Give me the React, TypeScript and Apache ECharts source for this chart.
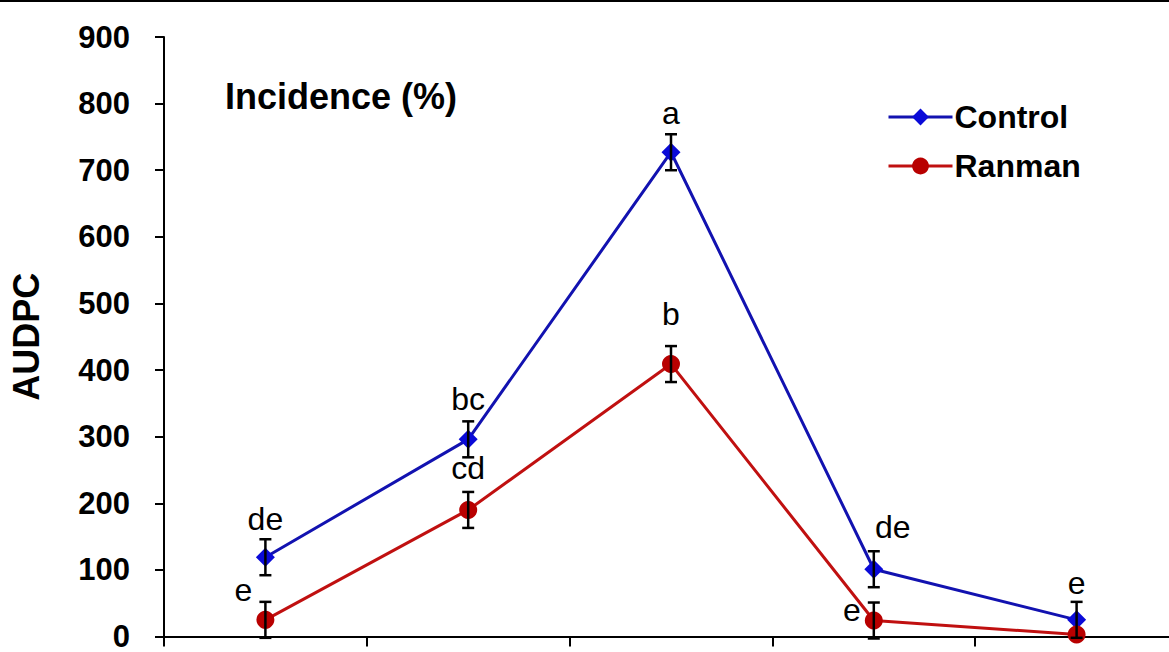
import React, { useEffect, useRef } from "react";
import * as echarts from "echarts";

const categories = ["T1", "T2", "T3", "T4", "T5"];
const controlValues = [119, 296, 727, 101, 25];
const controlErrors = [27, 27, 27, 27, 27];
const controlLetters = ["de", "bc", "a", "de", "e"];
const ranmanValues = [25, 190, 409, 24, 3];
const ranmanErrors = [27, 27, 27, 27, 0];
const ranmanLetters = ["e", "cd", "b", "e", ""];
const yTicks = [0, 100, 200, 300, 400, 500, 600, 700, 800, 900];

// label placement relative to error-bar top (pixels)
const controlLabelShift = [[0, -4], [0, -6], [0, -5], [19, -8], [0, -3]];
const ranmanLabelShift = [[-22, 4], [0, -8], [0, -16], [-22, 23], [0, 0]];

const FONT = "Liberation Sans, Arial, Helvetica, sans-serif";

function errorSeries(name: string, values: number[], errors: number[], letters: string[], shifts: number[][]) {
  const data = values.map((v, i) => [i, v - errors[i], v + errors[i], i]);
  return {
    type: "custom",
    name: name + "_err",
    z: 5,
    silent: true,
    data,
    renderItem: (params: any, api: any) => {
      const idx = api.value(3);
      const lo = api.coord([api.value(0), api.value(1)]);
      const hi = api.coord([api.value(0), api.value(2)]);
      const cap = 6;
      const style = { stroke: "#000", lineWidth: 2.5 };
      const children: any[] = [];
      if (errors[idx] > 0) {
        children.push(
          { type: "line", shape: { x1: hi[0], y1: hi[1], x2: lo[0], y2: lo[1] }, style },
          { type: "line", shape: { x1: hi[0] - cap, y1: hi[1], x2: hi[0] + cap, y2: hi[1] }, style },
          { type: "line", shape: { x1: lo[0] - cap, y1: lo[1], x2: lo[0] + cap, y2: lo[1] }, style }
        );
      }
      const letter = letters[idx];
      if (letter) {
        const s = shifts[idx];
        children.push({
          type: "text",
          x: hi[0] + s[0],
          y: hi[1] + s[1],
          style: {
            text: letter,
            fontSize: 32,
            fontFamily: FONT,
            fill: "#000",
            align: "center",
            verticalAlign: "bottom",
          },
        });
      }
      return { type: "group", children };
    },
  };
}

export default function App() {
  const ref = useRef<HTMLDivElement>(null);
  useEffect(() => {
    document.body.style.margin = "0";
    document.body.style.overflow = "hidden";
    const chart = echarts.init(ref.current!, undefined, { renderer: "svg" });
    chart.setOption({
      animation: false,
      backgroundColor: "#fff",
      grid: { left: 163, top: 37, width: 1015, bottom: 12, containLabel: false },
      legend: {
        left: 882,
        top: 96,
        orient: "vertical",
        itemWidth: 64,
        itemHeight: 21,
        itemGap: 17,
        lineStyle: { width: 3 },
        textStyle: { fontSize: 32, fontWeight: "bold", fontFamily: FONT, color: "#000", padding: [0, 0, 0, -3] },
        data: ["Control", "Ranman"],
      },
      xAxis: {
        type: "category",
        data: categories,
        boundaryGap: true,
        axisLine: { lineStyle: { color: "#000", width: 2 } },
        axisTick: { show: true, length: 10, lineStyle: { color: "#000", width: 2 } },
        axisLabel: { show: false },
        splitLine: { show: false },
      },
      yAxis: {
        type: "value",
        min: yTicks[0],
        max: yTicks[yTicks.length - 1],
        interval: 100,
        name: "AUDPC",
        nameLocation: "middle",
        nameGap: 120,
        nameRotate: 90,
        nameTextStyle: { fontSize: 36, fontWeight: "bold", fontFamily: FONT, color: "#000" },
        axisLine: { show: true, lineStyle: { color: "#000", width: 2 } },
        axisTick: { show: true, length: 9, lineStyle: { color: "#000", width: 2 } },
        axisLabel: { fontSize: 31, fontWeight: "bold", fontFamily: FONT, color: "#000", margin: 34 },
        splitLine: { show: false },
      },
      graphic: [
        { type: "line", shape: { x1: 0, y1: 1, x2: 1169, y2: 1 }, style: { stroke: "#000", lineWidth: 2 } },
        {
          type: "text",
          left: 225,
          top: 78,
          style: { text: "Incidence (%)", fontSize: 36, fontWeight: "bold", fontFamily: FONT, fill: "#000" },
        },
      ],
      series: [
        {
          name: "Control",
          type: "line",
          data: controlValues,
          symbol: "diamond",
          symbolSize: 19,
          z: 3,
          lineStyle: { color: "#1212b0", width: 3 },
          itemStyle: { color: "#0a0ad8" },
        },
        {
          name: "Ranman",
          type: "line",
          data: ranmanValues,
          symbol: "circle",
          symbolSize: 18,
          z: 3,
          lineStyle: { color: "#c01010", width: 3 },
          itemStyle: { color: "#b80000" },
        },
        errorSeries("Control", controlValues, controlErrors, controlLetters, controlLabelShift),
        errorSeries("Ranman", ranmanValues, ranmanErrors, ranmanLetters, ranmanLabelShift),
      ],
    });
    return () => chart.dispose();
  }, []);
  return (
    <div style={{ position: "absolute", left: 0, top: 0, width: 1169, height: 652, overflow: "hidden" }}>
      <div ref={ref} style={{ position: "absolute", left: 0, top: 0, width: 1190, height: 652 }} />
    </div>
  );
}
